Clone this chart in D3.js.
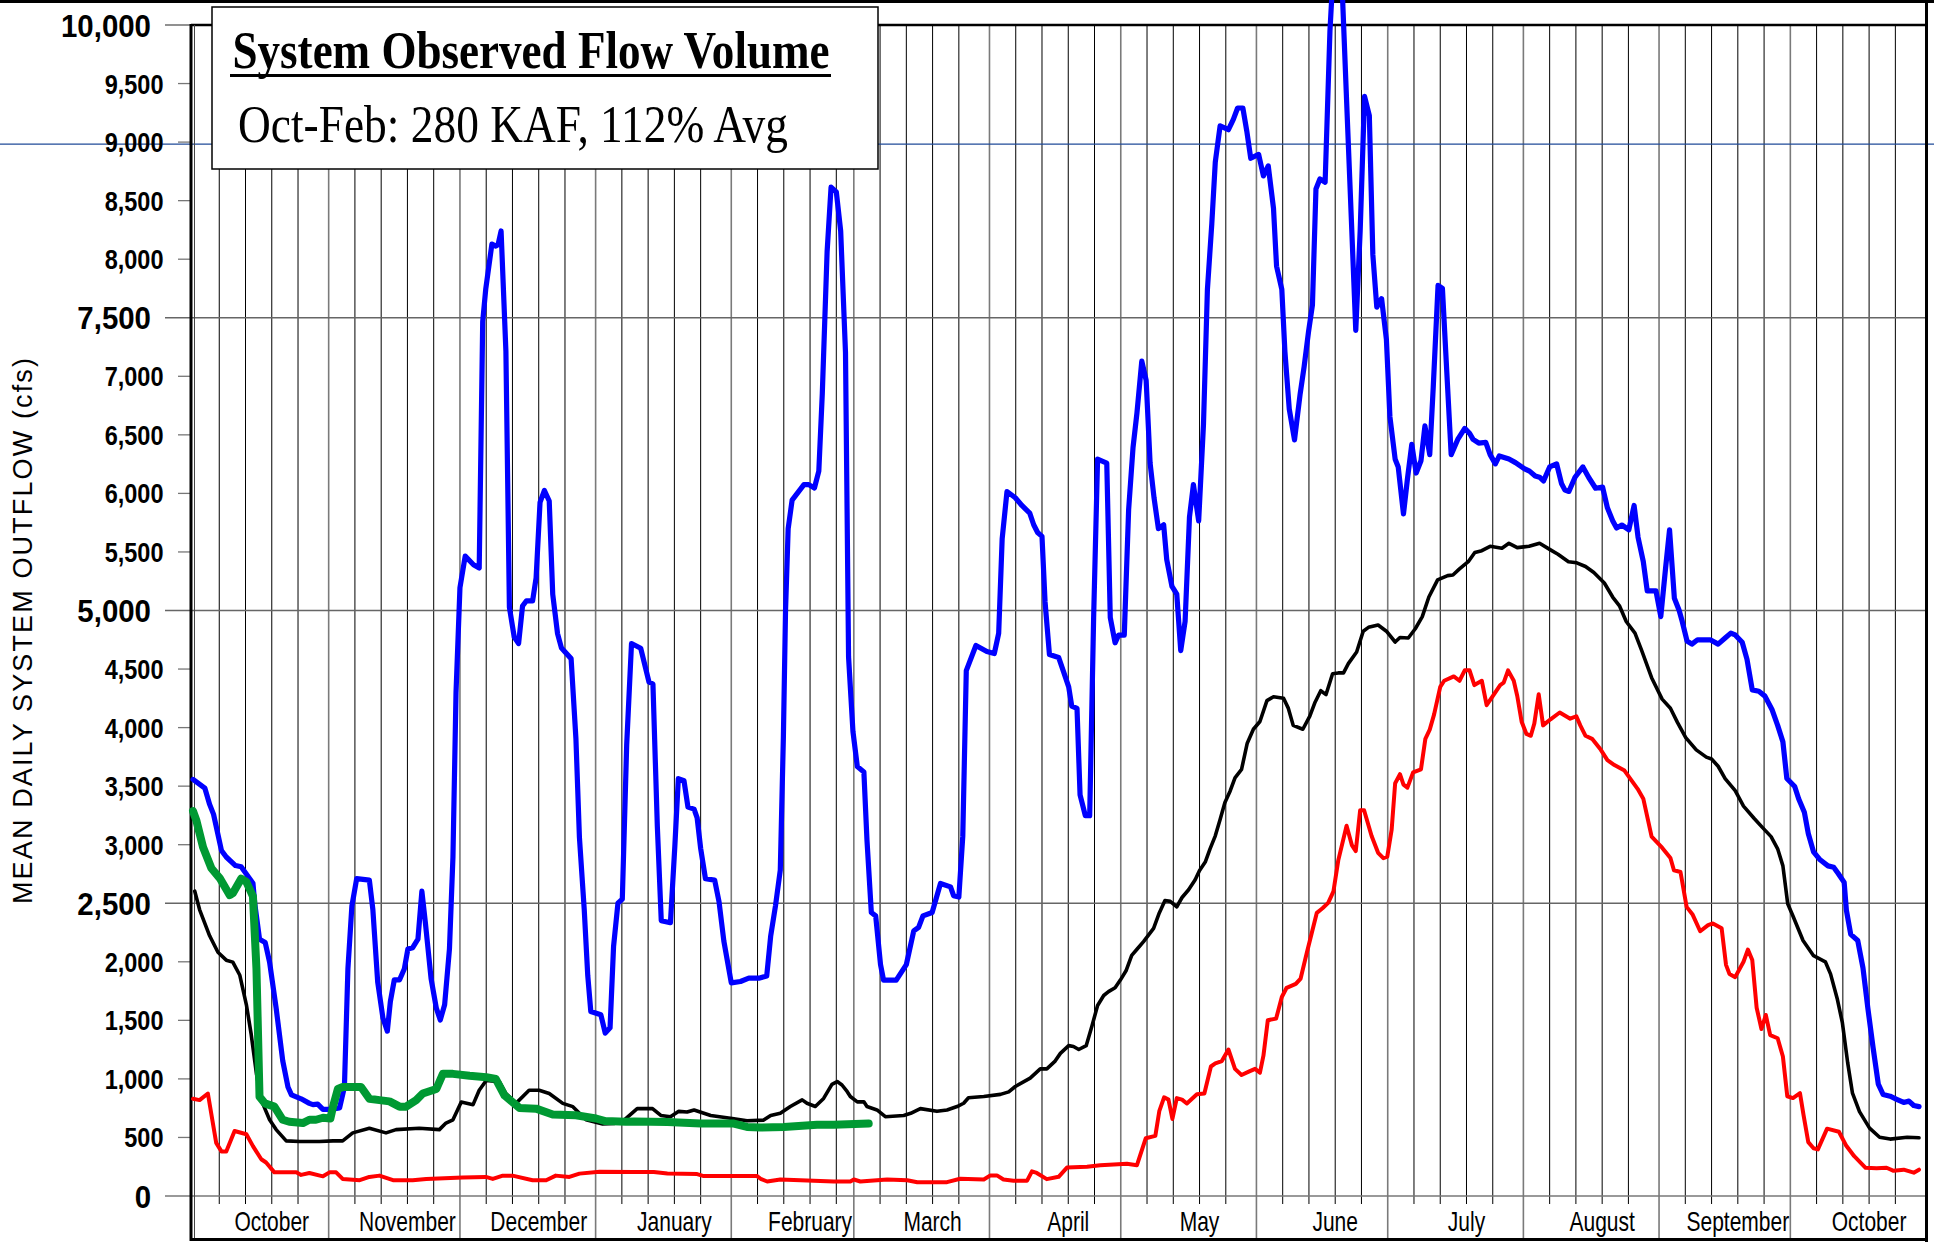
<!DOCTYPE html>
<html>
<head>
<meta charset="utf-8">
<script src="https://cdn.jsdelivr.net/npm/d3@7"></script>
<style>
  body { margin: 0; background: #fff; }
  svg { display: block; }
</style>
</head>
<body>
<div id="chart"></div>
<script>
// Data: [day since Oct 1, mean daily outflow cfs]
var monthLabels = ["October", "November", "December", "January", "February", "March",
  "April", "May", "June", "July", "August", "September", "October"];

var yTickValues = [0, 500, 1000, 1500, 2000, 2500, 3000, 3500, 4000, 4500, 5000,
  5500, 6000, 6500, 7000, 7500, 8000, 8500, 9000, 9500, 10000];
var majorTicks = [0, 2500, 5000, 7500, 10000];

var titleText = "System Observed Flow Volume";
var subtitleText = "Oct-Feb: 280 KAF, 112% Avg";
var yAxisTitle = "MEAN DAILY SYSTEM OUTFLOW (cfs)";
var refLineValue = 9000;

// blue - wettest year
var maxFlow = [[0,3557],[2.7,3484],[3.8,3344],[4.7,3259],[6.5,2951],[7.6,2895],[9.7,2822],[11,2811],[13.7,2670],[14.1,2502],
  [15.2,2193],[16.5,2165],[17.5,1997],[19,1604],[20.5,1156],[21.7,931],[22.5,864],[24.7,830],[26.6,791],[27.4,780],[28.5,785],
  [29.7,740],[31.4,740],[33.5,752],[34.6,931],[35.4,1941],[36.3,2474],[37.4,2710],[40.3,2698],[41.1,2446],[42.2,1829],
  [43.4,1520],[44.4,1408],[45.1,1661],[46,1846],[47.2,1846],[48.3,1941],[49.1,2109],[50.2,2121],[51.4,2193],[52.3,2603],
  [53.1,2334],[54.4,1857],[55.6,1604],[56.5,1503],[57.5,1633],[58.6,2109],[59.4,2895],[60.1,4297],[61,5195],[62.2,5464],
  [64.1,5391],[65.4,5363],[66.2,7467],[66.9,7747],[68.3,8129],[69.2,8112],[69.7,8123],[70.4,8241],[71.5,7214],[72.3,5027],
  [73.4,4774],[74.4,4718],[75.3,5038],[76.2,5083],[77.6,5083],[78.4,5279],[79.3,5924],[80.3,6025],[81.4,5935],[82.2,5139],
  [83.3,4802],[84.2,4679],[86.4,4589],[87.5,3905],[88.3,3063],[89.4,2446],[90.2,1885],[90.9,1576],[93.2,1548],[94.2,1391],
  [95.3,1436],[96.1,2130],[97.1,2500],[98.1,2535],[99.1,3852],[100.2,4718],[102.3,4678],[104.2,4389],[105.1,4372],[106.1,3160],
  [107,2351],[109.1,2334],[110.1,2986],[110.9,3564],[112.2,3546],[113.1,3321],[114.5,3304],[115.2,3229],[116,2969],[117.1,2709],
  [119.2,2698],[120.2,2513],[121.3,2178],[123,1820],[125.1,1832],[127,1860],[129.3,1860],[131.1,1878],[132,2219],[133.1,2478],
  [134.2,2784],[134.9,3910],[135.4,5007],[136,5700],[136.9,5942],[139.6,6075],[140.7,6075],[142,6046],[143,6190],[143.8,6854],
  [144.9,8066],[145.8,8615],[147,8575],[148,8240],[149.1,7201],[149.8,4603],[150.8,3968],[151.8,3667],[153.3,3621],[154,3044],
  [155,2421],[156,2392],[157.1,1976],[157.8,1843],[160.7,1843],[163,1976],[164.7,2265],[165.8,2294],[166.8,2392],[168.9,2421],
  [170.8,2669],[173.1,2640],[173.8,2565],[175,2553],[175.9,3073],[176.7,4487],[178.9,4701],[181.4,4649],[183.1,4632],[184.1,4805],
  [184.9,5613],[186,6016],[187.9,5963],[189.4,5897],[191.2,5831],[192.1,5732],[193,5666],[194,5633],[194.7,5073],[195.7,4625],
  [197.8,4599],[198.9,4480],[200.1,4348],[200.8,4184],[202,4164],[202.7,3426],[203.9,3248],[204.9,3248],[205.8,4941],[206.7,6292],
  [208.8,6259],[209.6,4941],[210.7,4724],[211.5,4790],[212.8,4790],[213.8,5864],[214.8,6391],[215.7,6688],[216.8,7129],[217.8,6965],
  [218.7,6259],[219.6,5963],[220.6,5699],[221.8,5732],[222.5,5435],[223.7,5205],[224.8,5139],[225.7,4658],[226.7,4908],[227.7,5798],
  [228.6,6075],[229.8,5765],[230.9,6589],[231.8,7742],[232.8,8302],[233.6,8830],[234.7,9139],[236.6,9106],[237.7,9192],[238.7,9291],
  [239.9,9291],[240.8,9093],[241.7,8862],[243.5,8895],[244.6,8711],[245.7,8797],[246.9,8434],[247.6,7940],[248.8,7742],[249.5,7215],
  [250.5,6721],[251.7,6457],[253,6853],[253.9,7083],[254.9,7380],[255.8,7611],[256.6,8599],[257.5,8685],[258.7,8658],[259.8,9950],
  [260.6,10500],[261.6,10700],[262.7,10213],[263.6,9357],[264.8,8237],[265.7,7393],[266.7,8237],[267.7,9390],[268.8,9225],[269.6,8039],
  [270.5,7591],[271.6,7663],[272.7,7314],[273.5,6655],[274.7,6292],[275.4,6226],[276.6,5824],[277.5,6122],[278.5,6419],[279.5,6174],
  [280.6,6279],[281.5,6576],[282.6,6331],[283.4,6905],[284.5,7776],[285.5,7750],[286.5,7035],[287.5,6331],[289,6461],[290.6,6555],
  [291.7,6513],[292.5,6461],[293.8,6430],[295.4,6435],[296.4,6331],[297.6,6252],[298.5,6320],[300.7,6294],[302.2,6263],[304.2,6211],
  [305.4,6190],[306.7,6148],[307.7,6138],[308.6,6106],[310,6226],[311.6,6252],[312.7,6085],[313.5,6028],[314.4,6017],[315.8,6138],
  [317.6,6226],[318.9,6138],[320.5,6044],[322.1,6054],[323.2,5877],[324.4,5767],[325.3,5704],[326.5,5730],[328.1,5689],[329.3,5897],
  [330.2,5626],[331.4,5417],[332.3,5167],[334.3,5167],[335.4,4948],[336.5,5365],[337.4,5689],[338.5,5104],[339.6,5000],[340.3,4906],
  [341.4,4739],[342.5,4713],[343.8,4750],[346.7,4750],[348.5,4713],[350.1,4765],[351.4,4807],[352.4,4791],[354,4729],[355.1,4583],
  [356.3,4322],[357.8,4311],[359.2,4269],[360.8,4155],[362.1,4019],[363.3,3878],[364.2,3565],[366,3497],[366.9,3393],[368.2,3278],
  [369.1,3096],[370.3,2939],[371.8,2871],[373.6,2819],[374.9,2808],[375.9,2756],[377.3,2678],[377.8,2443],[378.8,2234],[380.4,2182],
  [381.6,1947],[382.7,1608],[383.9,1269],[385.1,956],[386.2,867],[387.8,852],[389.3,826],[390.9,799],[392.1,810],[393.2,773],[394.4,763]];

// black - average
var avgFlow = [[0.4,2603],[1.5,2446],[3.8,2222],[5.7,2081],[7.6,2014],[9.1,1997],[10.7,1885],[12.2,1633],[13.3,1380],[14.5,1043],
  [15.6,819],[17.5,651],[19,567],[21.3,471],[24.4,466],[28.9,466],[32,471],[34.2,471],[36.5,539],[40.3,578],[44.1,539],[46.4,567],
  [51.7,578],[56.3,567],[57.8,623],[59.4,651],[61.3,802],[64,780],[65.4,903],[67,987],[70,976],[71.5,875],[73.8,791],[76.8,903],
  [79.1,903],[81.4,875],[84.5,791],[86.8,763],[89.8,651],[93.6,615],[96.2,619],[98.5,648],[101.5,746],[105,746],[106.9,688],
  [109.1,677],[111,723],[112.9,717],[114.5,735],[118.3,688],[123.6,659],[126.6,642],[130.4,648],[132,688],[134.2,706],[136.5,764],
  [139.2,821],[140.3,792],[142.2,764],[144.1,833],[146,954],[147.2,977],[148.3,948],[149.5,891],[150.2,850],[151.8,804],[153.3,804],
  [154,764],[156.3,735],[158.2,677],[162.4,688],[164,706],[166.2,746],[170,723],[172.3,735],[174.6,764],[176.1,792],[177.2,839],
  [180.7,850],[184.5,868],[186.4,889],[187.9,935],[191.3,1007],[193.6,1086],[195.1,1086],[197,1152],[198.2,1218],[200.1,1284],
  [201.2,1277],[202.4,1251],[204.1,1284],[205.4,1449],[206.7,1627],[208.1,1712],[209.2,1745],[210.7,1778],[211.9,1844],[213.2,1923],
  [214.5,2055],[215.7,2107],[217.2,2173],[219.5,2286],[220.8,2417],[222.1,2523],[223.3,2516],[224.8,2470],[226,2549],[227.5,2615],
  [229,2701],[230,2780],[231.3,2852],[232.4,2964],[233.6,3076],[234.7,3215],[235.8,3360],[237,3459],[238.1,3571],[239.6,3643],
  [240.9,3867],[242.3,3986],[243.8,4052],[245.4,4230],[246.9,4263],[249.2,4250],[250.3,4164],[251.4,4019],[253.6,3986],[255.2,4098],
  [256.4,4217],[257.7,4315],[258.9,4282],[260.4,4460],[261.7,4467],[262.9,4467],[264,4546],[265.9,4645],[267.4,4823],[268.6,4856],
  [270.8,4876],[272.7,4823],[274.7,4731],[275.8,4770],[277.7,4765],[279.3,4844],[280.9,4948],[282.4,5115],[284.4,5261],[286.7,5298],
  [287.9,5303],[289.4,5355],[291.4,5417],[292.9,5496],[294.5,5511],[296.4,5548],[299.1,5532],[300.7,5574],[302.6,5537],[305.3,5548],
  [307.7,5574],[310,5522],[311.9,5480],[314.3,5417],[316.2,5407],[318.2,5376],[320.1,5324],[322.5,5235],[324.4,5115],[326,5037],
  [327.5,4906],[329.5,4807],[331,4661],[333.3,4426],[335.7,4243],[337.6,4165],[339.2,4045],[341.1,3915],[343.5,3810],[345.8,3748],
  [347,3732],[348.5,3670],[350.1,3565],[352.4,3461],[354.3,3330],[356.7,3226],[358.6,3148],[360.6,3069],[362.1,2965],[363.3,2819],
  [364.4,2495],[365.6,2391],[367.9,2182],[370.3,2052],[373,2000],[374.2,1895],[375.7,1687],[376.9,1478],[378.1,1139],[379.2,878],
  [380.8,721],[383.1,580],[385.4,502],[387.8,486],[391.7,502],[394.4,497]];

// red - driest year
var minFlow = [[0,830],[1.5,819],[3.4,875],[5.3,454],[6.5,381],[7.6,381],[9.5,555],[12.2,527],[13.7,426],[15.6,314],[16.7,286],
  [18.6,202],[23.6,202],[24.7,180],[26.6,196],[29.7,168],[31.2,202],[32.7,202],[34.2,146],[38.1,135],[40.3,163],[42.6,174],
  [45.7,135],[50.2,135],[53.3,146],[61.6,157],[66.9,163],[68.5,146],[70.8,174],[73,174],[77.6,135],[80.7,135],[82.9,174],[86,163],
  [88.3,191],[92.9,208],[100.8,204],[105.3,204],[108.4,192],[115.2,187],[116.7,170],[128.9,170],[129.7,147],[131.2,124],[134.2,141],
  [138.8,135],[146.4,124],[150.2,124],[151,141],[152.5,124],[158.6,141],[163.2,135],[165.5,118],[172.3,118],[175.3,147],[180.7,141],
  [182.2,176],[183.7,176],[185.2,141],[187.5,131],[190.6,131],[191.7,210],[192.8,197],[195.1,144],[197.8,164],[199.7,243],[204.3,250],
  [207.3,263],[210.4,270],[213.4,276],[215.7,263],[217.7,493],[219.9,513],[220.8,724],[221.9,843],[222.9,823],[223.8,658],[224.8,836],
  [226,823],[227.1,790],[229.4,869],[231.1,876],[232.6,1106],[233.6,1132],[235.1,1152],[236.6,1251],[238.1,1086],[239.6,1033],
  [241.5,1066],[242.7,1086],[243.8,1053],[244.6,1198],[245.6,1501],[247.5,1515],[248.8,1699],[249.9,1778],[252,1811],[253.1,1857],
  [254.5,2075],[256.8,2418],[258.1,2457],[259.4,2503],[260.6,2602],[261.7,2866],[263.6,3162],[264.8,2997],[265.7,2945],[266.7,3294],
  [267.6,3294],[269.3,3076],[270.8,2931],[272,2885],[272.9,2898],[273.9,3129],[274.7,3525],[275.8,3602],[276.6,3513],[277.5,3487],
  [278.8,3618],[280.6,3644],[281.6,3904],[282.6,3983],[283.6,4113],[285,4348],[285.9,4400],[288.1,4437],[289.4,4400],[290.6,4489],
  [291.7,4489],[292.8,4363],[294.5,4400],[295.6,4191],[297.2,4280],[298.7,4363],[299.5,4384],[300.5,4489],[301.8,4400],[302.6,4270],
  [303.6,4050],[304.7,3946],[305.7,3930],[306.5,4035],[307.5,4285],[308.5,4019],[310.2,4071],[312.3,4129],[314.7,4076],[316.1,4097],
  [317,4019],[318.2,3930],[319.7,3904],[321.7,3810],[323.2,3722],[324.8,3680],[327.1,3633],[328.7,3549],[330.1,3477],[331.4,3393],
  [333.3,3069],[335.7,2975],[337.6,2886],[338.4,2782],[339.9,2767],[341.3,2469],[342.7,2401],[344.4,2261],[346.2,2313],[347.3,2328],
  [349.3,2287],[350.3,1974],[351.1,1895],[352.4,1869],[354.3,2000],[355.3,2104],[356.3,2015],[357.3,1608],[358.4,1426],[359.4,1546],
  [360.4,1374],[362.1,1347],[363.3,1191],[364.3,852],[365.6,836],[367.2,878],[368,695],[369.1,460],[370.3,408],[371.3,398],[373.4,575],
  [376.1,549],[377.7,434],[379.6,340],[382.2,241],[384.7,236],[387,241],[388.6,215],[390.9,225],[393.2,199],[394.4,225]];

// green - observed this year (through late February)
var obsFlow = [[0,3287],[0.8,3203],[2.3,2979],[4.2,2799],[6.1,2715],[8.4,2569],[9.1,2586],[11,2710],[12.2,2682],[13.7,2558],
  [14.5,1941],[15.2,847],[16.4,791],[18.6,763],[20.5,651],[22,634],[25.1,623],[26.6,651],[28.1,651],[29.7,668],[31.4,662],[32,763],
  [33.1,914],[34.2,931],[38.4,931],[40.3,830],[42.6,819],[44.9,808],[47.2,763],[48.7,763],[51,819],[52.5,875],[55.6,914],[57.1,1043],
  [59.4,1043],[63.2,1027],[67,1015],[69.2,999],[71.2,858],[74.6,752],[78.4,746],[82.2,696],[87.5,690],[92.1,662],[94.2,640],
  [98.9,634],[100.8,636],[108.4,631],[116,619],[123.6,619],[126.6,590],[129.7,585],[135,590],[142.6,608],[146.4,608],[154.4,619]];

var svgWidth = 1934;
var svgHeight = 1242;

var svg = d3.select("#chart")
  .append("svg")
  .attr("width", svgWidth)
  .attr("height", svgHeight);

// day scale (Oct 1 .. Nov 1 next year) and flow scale
var xScale = d3.scaleLinear().domain([0, 396]).range([193, 1926]);
var yScale = d3.scaleLinear().domain([0, 10000]).range([1196, 25]);

var startDate = new Date(Date.UTC(2012, 9, 1));
var endDate = new Date(Date.UTC(2013, 10, 1));
var monthStarts = d3.utcMonth.range(startDate, endDate).map(function(m) {
  return d3.utcDay.count(startDate, m);
});

var plotLeft = 191, plotRight = 1926, plotTop = yScale(10000), plotBottom = yScale(0);
var sans = "'Liberation Sans', Arial, sans-serif";
var serif = "'Liberation Serif', 'Times New Roman', serif";

var grid = svg.append("g");

// sub-month lines (7th, 13th, 19th, 25th)
var subDays = [];
monthStarts.forEach(function(m) { [6, 12, 18, 24].forEach(function(o) { subDays.push(m + o); }); });
grid.selectAll(".sub").data(subDays).enter().append("line")
  .attr("x1", d => xScale(d)).attr("x2", d => xScale(d))
  .attr("y1", plotTop).attr("y2", plotBottom + 8)
  .attr("stroke", "#000").attr("stroke-width", 1);

// month boundaries
grid.selectAll(".mon").data(monthStarts.slice(1)).enter().append("line")
  .attr("x1", d => xScale(d)).attr("x2", d => xScale(d))
  .attr("y1", plotTop).attr("y2", 1240)
  .attr("stroke", "#7a7a7a").attr("stroke-width", 1.6);

// horizontal grid at major ticks
grid.selectAll(".hg").data([2500, 5000, 7500]).enter().append("line")
  .attr("x1", 165).attr("x2", plotRight)
  .attr("y1", d => yScale(d)).attr("y2", d => yScale(d))
  .attr("stroke", "#666").attr("stroke-width", 1.3);
grid.append("line").attr("x1", 165).attr("x2", plotRight)
  .attr("y1", plotBottom).attr("y2", plotBottom)
  .attr("stroke", "#777").attr("stroke-width", 1.6);
grid.append("line").attr("x1", 165).attr("x2", plotLeft)
  .attr("y1", plotTop).attr("y2", plotTop)
  .attr("stroke", "#555").attr("stroke-width", 1.3);

// minor tick marks
grid.selectAll(".mt").data(yTickValues.filter(v => majorTicks.indexOf(v) < 0)).enter().append("line")
  .attr("x1", 178).attr("x2", plotLeft)
  .attr("y1", d => yScale(d)).attr("y2", d => yScale(d))
  .attr("stroke", "#777").attr("stroke-width", 1.3);

// 9,000 reference line across the page
svg.append("line").attr("x1", 0).attr("x2", svgWidth)
  .attr("y1", yScale(refLineValue) + 2).attr("y2", yScale(refLineValue) + 2)
  .attr("stroke", "#1f4a98").attr("stroke-width", 1.2);

// frames
svg.append("line").attr("x1", 0).attr("x2", svgWidth).attr("y1", 1.5).attr("y2", 1.5)
  .attr("stroke", "#000").attr("stroke-width", 3);
svg.append("line").attr("x1", plotLeft).attr("x2", plotRight).attr("y1", plotTop).attr("y2", plotTop)
  .attr("stroke", "#000").attr("stroke-width", 2.5);
svg.append("line").attr("x1", plotLeft).attr("x2", plotLeft).attr("y1", plotTop - 1).attr("y2", 1241)
  .attr("stroke", "#000").attr("stroke-width", 3);
svg.append("line").attr("x1", 194.5).attr("x2", 194.5).attr("y1", plotTop).attr("y2", 1238)
  .attr("stroke", "#444").attr("stroke-width", 1);
svg.append("line").attr("x1", plotLeft - 1).attr("x2", plotRight + 1).attr("y1", 1239.5).attr("y2", 1239.5)
  .attr("stroke", "#000").attr("stroke-width", 3);
svg.append("line").attr("x1", 1926.5).attr("x2", 1926.5).attr("y1", 0).attr("y2", svgHeight)
  .attr("stroke", "#000").attr("stroke-width", 3);

// y tick labels
yTickValues.forEach(function(v) {
  var major = majorTicks.indexOf(v) >= 0;
  svg.append("g")
    .attr("transform", "translate(" + (major ? 151 : 163.5) + "," + (yScale(v) + (major ? 11.5 : 10)) + ") scale(" + (major ? 0.92 : 0.84) + ",1)")
    .append("text")
    .attr("text-anchor", "end")
    .attr("font-family", sans)
    .attr("font-weight", "bold")
    .attr("font-size", major ? "32px" : "28px")
    .attr("fill", "#000")
    .text(d3.format(",")(v));
});

// month labels
monthLabels.forEach(function(label, i) {
  svg.append("g")
    .attr("transform", "translate(" + xScale(monthStarts[i] + 18) + ",1231) scale(0.75,1)")
    .append("text")
    .attr("text-anchor", "middle")
    .attr("font-family", sans)
    .attr("font-size", "28px")
    .attr("fill", "#000")
    .text(label);
});

// y axis title
svg.append("text")
  .attr("transform", "translate(32,631) rotate(-90)")
  .attr("text-anchor", "middle")
  .attr("font-family", sans)
  .attr("font-size", "27px")
  .attr("textLength", 546)
  .attr("lengthAdjust", "spacing")
  .attr("fill", "#000")
  .text(yAxisTitle);

// series
var line = d3.line()
  .x(d => xScale(d[0]))
  .y(d => yScale(d[1]));

var series = [
  { data: minFlow, color: "#ff0000", width: 4 },
  { data: avgFlow, color: "#000000", width: 3.6 },
  { data: maxFlow, color: "#0000ff", width: 5.2 },
  { data: obsFlow, color: "#009933", width: 8 }
];

svg.selectAll(".series").data(series).enter().append("path")
  .attr("d", d => line(d.data))
  .attr("fill", "none")
  .attr("stroke", d => d.color)
  .attr("stroke-width", d => d.width)
  .attr("stroke-linejoin", "round")
  .attr("stroke-linecap", "round");

// title box
var box = svg.append("g");
box.append("rect")
  .attr("x", 212).attr("y", 7).attr("width", 666).attr("height", 162)
  .attr("fill", "#fff").attr("stroke", "#000").attr("stroke-width", 1.5);
box.append("text")
  .attr("x", 232.5).attr("y", 68)
  .attr("font-family", serif).attr("font-weight", "bold").attr("font-size", "53px")
  .attr("textLength", 597).attr("lengthAdjust", "spacingAndGlyphs")
  .text(titleText);
box.append("line")
  .attr("x1", 230).attr("x2", 831).attr("y1", 75.5).attr("y2", 75.5)
  .attr("stroke", "#000").attr("stroke-width", 3.2);
box.append("text")
  .attr("x", 238).attr("y", 141.5)
  .attr("font-family", serif).attr("font-size", "53px")
  .attr("textLength", 550).attr("lengthAdjust", "spacingAndGlyphs")
  .text(subtitleText);
</script>
</body>
</html>
